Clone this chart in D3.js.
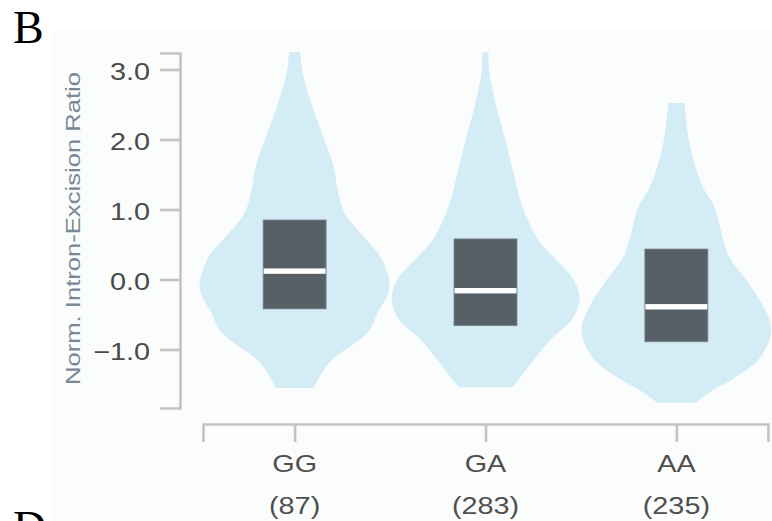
<!DOCTYPE html>
<html><head><meta charset="utf-8">
<script src="https://cdn.jsdelivr.net/npm/d3@7"></script>
<style>
html,body{margin:0;padding:0;background:#fff;overflow:hidden}
svg{display:block}
</style></head>
<body>
<svg id="chart" width="772" height="521"></svg>
<script>
// ---------- data ----------
const categories = ["GG", "GA", "AA"];
const counts = ["(87)", "(283)", "(235)"];
const yTicks = [-1, 0, 1, 2, 3];

// violin outlines: value (y) and relative density (half-width)
const ggValues  = [3.25, 2.95, 2.46, 1.99, 1.61, 1.28, 0.95, 0.56, 0.32, -0.11, -0.48, -0.76, -1.15, -1.34, -1.55];
const ggDensity = [5.5,  8,    18,   30,   39,   43,   50,   72,   86,   95,    83,    73,    37,    27,    19];
const gaValues  = [3.25, 2.95, 2.46, 1.99, 1.52, 1.04, 0.56, 0.32, 0.00, -0.29, -0.58, -0.86, -1.15, -1.34, -1.54];
const gaDensity = [3,    4,    11,   20,   28,   37,   53,   68,   88,   94,    86,    65,    48,    38,    27];
const aaValues  = [2.52, 1.99, 1.52, 1.28, 1.04, 0.56, 0.32, -0.05, -0.39, -0.72, -1.11, -1.39, -1.58, -1.76];
const aaDensity = [8,    12.5, 21,   28,   38,   47,   53,   72,    87,    95,    84,    60,    37,    19];

// box summaries
const q1Values     = [-0.42, -0.66, -0.89];
const medianValues = [0.12, -0.16, -0.39];
const q3Values     = [0.85, 0.58, 0.435];

// ---------- drawing ----------
const svg = d3.select("#chart");
const sansFont = "'Liberation Sans', Arial, Helvetica, sans-serif";
const HS = 1.2; // horizontal stretch seen in the reference text

// background panel and panel letters
svg.append("rect").attr("x", 50).attr("y", 30).attr("width", 722).attr("height", 491).attr("fill", "#fbfcfc");
svg.append("text").attr("x", 13).attr("y", 43).text("B")
  .attr("font-family", "'Liberation Serif', 'Times New Roman', serif").attr("font-size", 46).attr("fill", "#000");
svg.append("text").attr("x", 13).attr("y", 543).text("D")
  .attr("font-family", "'Liberation Serif', 'Times New Roman', serif").attr("font-size", 46).attr("fill", "#000");

const y = d3.scaleLinear().domain([-1.836, 3.236]).range([408, 53]);
const x = d3.scalePoint().domain(categories).range([203, 768]).padding(0.48);

const violins = [
  {values: ggValues, density: ggDensity},
  {values: gaValues, density: gaDensity},
  {values: aaValues, density: aaDensity}
];
const maxD = d3.max(violins, v => d3.max(v.density));
const w = d3.scaleLinear().domain([0, maxD]).range([0, 95]);

violins.forEach((v, i) => {
  const cx = x(categories[i]);
  const pts = v.values.map((val, j) => ({v: val, d: v.density[j]}));
  const area = d3.area()
    .y(d => y(d.v))
    .x0(d => cx - w(d.d))
    .x1(d => cx + w(d.d))
    .curve(d3.curveCatmullRom.alpha(0.5));
  svg.append("path").attr("d", area(pts)).attr("fill", "#d3ecf5");
});

const boxW = 63;
categories.forEach((c, i) => {
  const cx = x(c);
  svg.append("rect")
    .attr("x", cx - boxW / 2).attr("width", boxW)
    .attr("y", y(q3Values[i])).attr("height", y(q1Values[i]) - y(q3Values[i]))
    .attr("fill", "#566066").attr("stroke", "#7d878d").attr("stroke-width", 0.8);
  svg.append("rect")
    .attr("x", cx - boxW / 2 + 0.5).attr("width", boxW - 1)
    .attr("y", y(medianValues[i]) - 2.7).attr("height", 5.4)
    .attr("fill", "#ffffff");
});

// y axis
const yAxis = d3.axisLeft(y).tickValues(yTicks).tickFormat(d3.format(".1f"))
  .tickSizeInner(20).tickSizeOuter(20).tickPadding(10);
const gy = svg.append("g").attr("transform", "translate(180,0)").call(yAxis);
gy.selectAll("path, line").attr("stroke", "#c3c3c3").attr("stroke-width", 2.6);
gy.selectAll("text")
  .attr("font-family", sansFont).attr("font-size", 24).attr("fill", "#4a4a4a")
  .attr("dy", "0.42em")
  .attr("transform", function() { const xx = +d3.select(this).attr("x"); return `translate(${xx},0) scale(${HS},1)`; })
  .attr("x", 0);

// x axis
const xAxis = d3.axisBottom(x).tickSizeInner(18).tickSizeOuter(18).tickFormat("");
const gx = svg.append("g").attr("transform", "translate(0,424)").call(xAxis);
gx.selectAll("path, line").attr("stroke", "#c3c3c3").attr("stroke-width", 2.6);
gx.selectAll("text").remove();

categories.forEach((c, i) => {
  const cx = x(c);
  svg.append("text").attr("transform", `translate(${cx},472) scale(${HS},1)`)
    .attr("text-anchor", "middle").attr("font-family", sansFont).attr("font-size", 24).attr("fill", "#4f4f4f")
    .text(c);
  svg.append("text").attr("transform", `translate(${cx},514) scale(${HS},1)`)
    .attr("text-anchor", "middle").attr("font-family", sansFont).attr("font-size", 24).attr("fill", "#4f4f4f")
    .text(counts[i]);
});

// y title
svg.append("text")
  .attr("transform", "translate(80,228.5) rotate(-90)")
  .attr("text-anchor", "middle").attr("font-family", sansFont).attr("font-size", 21).attr("fill", "#788894")
  .attr("textLength", 313).attr("lengthAdjust", "spacingAndGlyphs")
  .text("Norm. Intron-Excision Ratio");
</script>
</body></html>
